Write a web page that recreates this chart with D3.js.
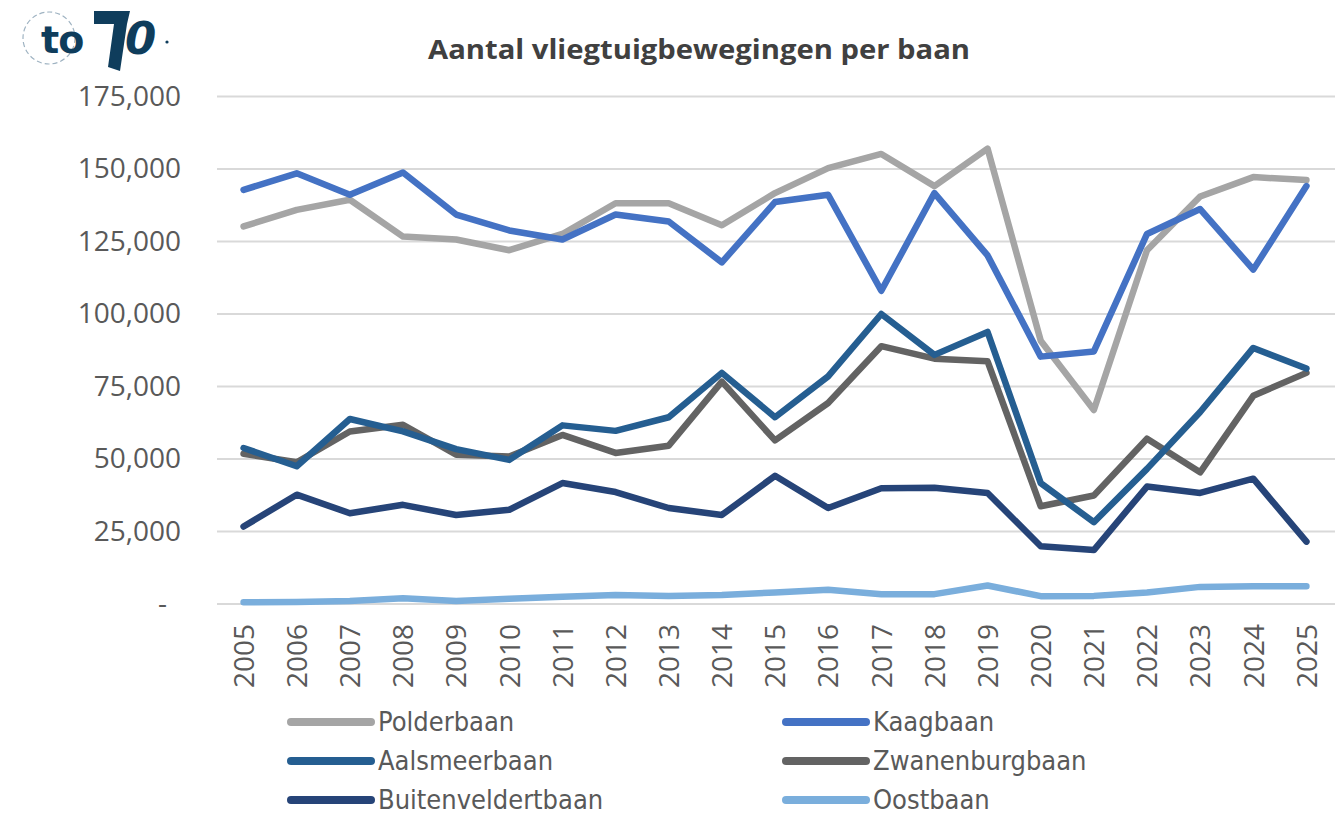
<!DOCTYPE html>
<html><head><meta charset="utf-8">
<script src="https://cdn.jsdelivr.net/npm/d3@7"></script>
<style>body{margin:0;background:#fff}svg{display:block}</style>
</head><body>
<svg id="c" width="1344" height="817"></svg>
<script>
const years = ["2005","2006","2007","2008","2009","2010","2011","2012","2013","2014","2015","2016","2017","2018","2019","2020","2021","2022","2023","2024","2025"];
const polderbaan = [130200,135900,139400,126700,125700,122000,127600,138200,138200,130600,141700,150300,155200,144100,157000,90800,66900,122000,140500,147200,146200];
const kaagbaan = [142800,148500,141100,148800,134300,128800,125700,134300,131900,117800,138600,141100,108000,141700,120200,85300,87100,127600,136200,115300,144100];
const aalsmeerbaan = [53800,47500,63800,59500,53400,49700,61600,59700,64400,79700,64400,78500,100000,85900,93800,41700,28200,46600,66200,88300,81200];
const zwanenburgbaan = [51800,48900,59500,61800,51500,50900,58300,52100,54600,76700,56400,69300,88900,84600,83700,33700,37400,57000,45400,71800,79700];
const buitenveldertbaan = [26700,37700,31300,34200,30700,32500,41700,38600,33100,30700,44200,33100,39900,40100,38300,19900,18600,40500,38300,43200,21500];
const oostbaan = [600,700,1000,2000,1000,1800,2500,3100,2800,3100,4000,4900,3400,3400,6400,2700,2800,4000,5900,6100,6100];
const yTicks = [0,25000,50000,75000,100000,125000,150000,175000];
const seriesNames = ["Polderbaan","Kaagbaan","Aalsmeerbaan","Zwanenburgbaan","Buitenveldertbaan","Oostbaan"];
const seriesValues = [polderbaan,kaagbaan,aalsmeerbaan,zwanenburgbaan,buitenveldertbaan,oostbaan];
const colors = ["#a5a5a5","#4472c4","#255e91","#636363","#264478","#7aaedc"];
const title = "Aantal vliegtuigbewegingen per baan";

const svg = d3.select("#c");
const font = "'Open Sans', 'Noto Sans', sans-serif";
const x = d3.scalePoint().domain(years).range([217,1333]).padding(0.5);
const y = d3.scaleLinear().domain([0,175000]).range([604,96.5]);

// gridlines
svg.append("g").selectAll("line").data(yTicks).join("line")
  .attr("x1",217).attr("x2",1335).attr("y1",d=>y(d)).attr("y2",d=>y(d))
  .attr("stroke","#d9d9d9").attr("stroke-width",2);

// y axis
const ya = svg.append("g").attr("transform","translate(181,0)")
  .call(d3.axisLeft(y).tickValues(yTicks).tickSize(0).tickPadding(0)
    .tickFormat(d=> d===0 ? "-" : d3.format(",")(d)));
ya.select(".domain").remove();
ya.selectAll("text").attr("font-family",font).attr("font-size",28).attr("fill","#595959");
ya.selectAll(".tick").filter(d=>d===0).select("text").attr("dx",-14);

// x axis
const xa = svg.append("g").attr("transform","translate(0,624)")
  .call(d3.axisBottom(x).tickSize(0).tickPadding(0));
xa.select(".domain").remove();
xa.selectAll("text").attr("font-family",font).attr("font-size",28).attr("fill","#595959")
  .attr("transform","rotate(-90)").attr("text-anchor","end").attr("x",0).attr("y",0).attr("dy","0.35em");

// lines
const line = d3.line().x((d,i)=>x(years[i])).y(d=>y(d));
const order = [5,4,3,2,0,1];
svg.append("g").selectAll("path").data(order).join("path")
  .attr("d",i=>line(seriesValues[i])).attr("fill","none")
  .attr("stroke",i=>colors[i]).attr("stroke-width",6.5)
  .attr("stroke-linejoin","round").attr("stroke-linecap","round");

// title
svg.append("text").attr("x",428).attr("y",59)
  .attr("font-family",font).attr("font-weight","bold").attr("font-size",26)
  .attr("textLength",542).attr("lengthAdjust","spacingAndGlyphs")
  .attr("fill","#404040").text(title);

// legend
const lg = svg.append("g");
seriesNames.forEach((n,i)=>{
  const col = i%2, row = Math.floor(i/2);
  const lx = col===0 ? 291 : 786, ly = 722 + row*39;
  lg.append("line").attr("x1",lx).attr("x2",lx+80).attr("y1",ly).attr("y2",ly)
    .attr("stroke",colors[i]).attr("stroke-width",8).attr("stroke-linecap","round");
  lg.append("text").attr("x",lx+87).attr("y",ly).attr("dy","0.35em")
    .attr("font-family","'Liberation Sans Narrow', 'DejaVu Sans Condensed', sans-serif")
    .attr("font-size",27).attr("fill","#595959").text(n);
});

// logo
const logo = svg.append("g");
logo.append("circle").attr("cx",49).attr("cy",38).attr("r",26).attr("fill","none")
  .attr("stroke","#9fb3c2").attr("stroke-width",1.2).attr("stroke-dasharray","5,3");
logo.append("text").attr("x",41).attr("y",53).attr("font-family","'DejaVu Sans', sans-serif")
  .attr("font-weight","bold").attr("font-size",38).attr("fill","#0f3d5c").attr("letter-spacing",-1).text("to");
logo.append("path").attr("d","M94,11 L130,11 L127,24 L120,71 L108,67 L114,24 L94,24 Z").attr("fill","#0f3d5c");
logo.append("text").attr("x",125).attr("y",54).attr("font-family","'DejaVu Sans', sans-serif")
  .attr("font-weight","bold").attr("font-style","italic").attr("font-size",45).attr("fill","#0f3d5c")
  .text("0");
logo.append("circle").attr("cx",167).attr("cy",42).attr("r",1.6).attr("fill","#0f3d5c");
</script>
</body></html>
